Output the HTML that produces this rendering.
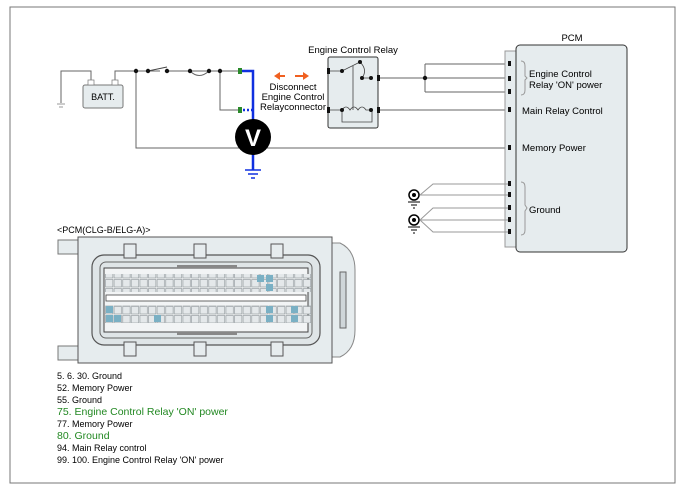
<!DOCTYPE html>
<html><head><meta charset="utf-8"><style>
html,body{margin:0;padding:0;background:#fff;width:684px;height:493px;overflow:hidden}
svg text{font-family:"Liberation Sans",sans-serif}
</style></head><body>
<svg width="684" height="493" viewBox="0 0 684 493" xmlns="http://www.w3.org/2000/svg">
<defs>
<pattern id="pins" x="105" y="0" width="8.6" height="9" patternUnits="userSpaceOnUse">
<rect x="0.5" y="0.5" width="7.4" height="7.5" fill="#e4e8ea" stroke="#8a9296" stroke-width="0.6"/>
</pattern>
</defs>
<rect x="10" y="7" width="665" height="476" fill="none" stroke="#777" stroke-width="1"/>

<!-- battery section -->
<g stroke="#666" stroke-width="1" fill="none">
<path d="M61 103 V71 H91 V80"/>
<path d="M115 80 V71 H240"/>
<path d="M136 71 V148 H510"/>
<path d="M220 71 V110 H240"/>
<path d="M378 78 H425 M425 64 V92 M425 64 H510 M425 78 H510 M425 92 H510"/>
<path d="M378 110 H510"/>
</g>
<line x1="57" y1="104" x2="65" y2="104" stroke="#999"/><line x1="59" y1="107" x2="63" y2="107" stroke="#999"/>
<rect x="83" y="85" width="40" height="23" rx="2" fill="#e6ecee" stroke="#777"/>
<rect x="88" y="80" width="6" height="5" fill="#fff" stroke="#777" stroke-width="0.7"/>
<rect x="112" y="80" width="6" height="5" fill="#fff" stroke="#777" stroke-width="0.7"/>
<text x="103" y="100" font-size="9" text-anchor="middle">BATT.</text>
<path d="M148 71 L167 67" stroke="#444" fill="none"/>
<rect x="160" y="69" width="30" height="4" fill="#fff"/>
<path d="M167 71 H190 M190 71 Q199 80 209 71" stroke="#666" fill="none"/>
<g fill="#111"><circle cx="136" cy="71" r="2.2"/><circle cx="148" cy="71" r="2.2"/><circle cx="167" cy="71" r="2.2"/><circle cx="190" cy="71" r="2.2"/><circle cx="209" cy="71" r="2.2"/><circle cx="220" cy="71" r="2.2"/><circle cx="425" cy="78" r="2.2"/></g>
<rect x="238" y="68" width="4" height="6" fill="#2a8a2a"/>
<rect x="238" y="107" width="4" height="6" fill="#2a8a2a"/>
<path d="M242 71 H253 V170" stroke="#1030e0" stroke-width="2.5" fill="none"/>
<path d="M243 110 H253" stroke="#1030e0" stroke-width="2.5" stroke-dasharray="2,2" fill="none"/>
<path d="M245 170 H261 M248 174 H258 M251 178 H255" stroke="#1030e0" stroke-width="1.5"/>
<circle cx="253" cy="137" r="18" fill="#000"/>
<text x="253" y="146" font-size="24" fill="#fff" text-anchor="middle" font-weight="bold">V</text>
<!-- arrows -->
<g stroke="#f06020" stroke-width="2" fill="#f06020">
<line x1="278" y1="76" x2="285" y2="76"/><polygon points="274,76 280,72 280,80" stroke="none"/>
<line x1="295" y1="76" x2="303" y2="76"/><polygon points="309,76 303,72 303,80" stroke="none"/>
</g>
<text x="293" y="90" font-size="9.5" text-anchor="middle">Disconnect</text>
<text x="293" y="100" font-size="9.5" text-anchor="middle">Engine Control</text>
<text x="293" y="110" font-size="9.5" text-anchor="middle">Relayconnector</text>
<!-- relay -->
<text x="353" y="53" font-size="9.5" text-anchor="middle">Engine Control Relay</text>
<rect x="328" y="57" width="50" height="71" rx="2" fill="#e6ecee" stroke="#333"/>
<g stroke="#444" fill="none" stroke-width="0.8">
<path d="M330 71 H342 L360 62 M360 62 Q368 70 362 78 H370"/>
<path d="M353 66 V110"/>
<path d="M330 110 H342 Q346 104 350 110 Q354 104 358 110 Q362 104 366 110 H372"/>
<path d="M342 110 V122 H372 V110"/>
</g>
<g fill="#111"><circle cx="342" cy="71" r="2"/><circle cx="360" cy="62" r="2"/><circle cx="362" cy="78" r="2"/><circle cx="371" cy="78" r="2"/><circle cx="342" cy="110" r="2"/><circle cx="371" cy="110" r="2"/>
<rect x="327" y="68" width="3" height="6"/><rect x="327" y="107" width="3" height="6"/><rect x="377" y="75" width="3" height="6"/><rect x="377" y="107" width="3" height="6"/></g>
<!-- PCM -->
<text x="572" y="41" font-size="9.5" text-anchor="middle">PCM</text>
<rect x="505" y="51" width="14" height="196" fill="#e6ecee" stroke="#999"/>
<rect x="516" y="45" width="111" height="207" rx="4" fill="#e6ecee" stroke="#333"/>
<g stroke="#999" fill="none">
<path d="M510 184 H433 L420 195"/>
<path d="M420 195 H510"/>
<path d="M510 208 H433 L420 220"/>
<path d="M420 220 H510"/>
<path d="M510 232 H433 L420 220"/>
<path d="M521 61 Q525 61 525 66 V76 L527 78 L525 80 V90 Q525 95 521 95" />
<path d="M521 182 Q525 182 525 187 V205 L527 208 L525 211 V230 Q525 235 521 235"/>
</g>
<g fill="#111"><rect x="508" y="61" width="3" height="5"/><rect x="508" y="76" width="3" height="5"/><rect x="508" y="89" width="3" height="5"/><rect x="508" y="107" width="3" height="5"/><rect x="508" y="145" width="3" height="5"/><rect x="508" y="181" width="3" height="5"/><rect x="508" y="192" width="3" height="5"/><rect x="508" y="205" width="3" height="5"/><rect x="508" y="217" width="3" height="5"/><rect x="508" y="229" width="3" height="5"/></g>
<g stroke="#000" fill="#fff" stroke-width="1.5"><circle cx="414" cy="195" r="5"/><circle cx="414" cy="220" r="5"/></g>
<g fill="#000"><circle cx="414" cy="195" r="2"/><circle cx="414" cy="220" r="2"/></g>
<g stroke="#000"><path d="M408 202 H420 M411 205 H417 M413 208 H415"/><path d="M408 227 H420 M411 230 H417 M413 233 H415"/></g>
<g font-size="9.5"><text x="529" y="77">Engine Control</text><text x="529" y="88">Relay 'ON' power</text>
<text x="522" y="114">Main Relay Control</text><text x="522" y="151">Memory Power</text><text x="529" y="213">Ground</text></g>

<!-- connector -->
<text x="57" y="233" font-size="9">&lt;PCM(CLG-B/ELG-A)&gt;</text>
<rect x="58" y="240" width="20" height="14" fill="#e6ecee" stroke="#777"/>
<rect x="58" y="346" width="20" height="14" fill="#e6ecee" stroke="#777"/>
<path d="M332 243 H340 Q355 250 355 270 V330 Q355 350 340 357 H332 Z" fill="#e6ecee" stroke="#888"/>
<rect x="78" y="237" width="254" height="126" fill="#e6ecee" stroke="#555"/>
<rect x="92" y="255" width="228" height="90" rx="12" fill="#dfe5e7" stroke="#555" stroke-width="1.2"/>
<rect x="100" y="262" width="212" height="76" rx="6" fill="none" stroke="#666"/>
<rect x="104" y="268" width="204" height="64" fill="#f2f4f5" stroke="#444"/>
<rect x="105" y="274" width="206" height="18" fill="url(#pins)"/>
<rect x="105" y="305" width="206" height="18" fill="url(#pins)"/>
<rect x="106" y="295" width="200" height="6" fill="#fff" stroke="#444" stroke-width="0.8"/>
<g fill="#7ab0c4"><rect x="257" y="275" width="7" height="7"/><rect x="266" y="275" width="7" height="7"/><rect x="266" y="284" width="7" height="7"/><rect x="106" y="306" width="7" height="7"/><rect x="106" y="315" width="7" height="7"/><rect x="114" y="315" width="7" height="7"/><rect x="154" y="315" width="7" height="7"/><rect x="266" y="306" width="7" height="7"/><rect x="266" y="315" width="7" height="7"/><rect x="291" y="306" width="7" height="7"/><rect x="291" y="315" width="7" height="7"/></g>
<g fill="#e6ecee" stroke="#555"><rect x="124" y="244" width="12" height="14"/><rect x="194" y="244" width="12" height="14"/><rect x="271" y="244" width="12" height="14"/><rect x="124" y="342" width="12" height="14"/><rect x="194" y="342" width="12" height="14"/><rect x="271" y="342" width="12" height="14"/></g>
<rect x="177" y="265" width="60" height="3" fill="#888"/><rect x="177" y="332" width="60" height="3" fill="#888"/>
<rect x="340" y="272" width="6" height="56" fill="#cfd6d9" stroke="#666"/>

<!-- list -->
<g font-size="9">
<text x="57" y="379">5. 6. 30. Ground</text>
<text x="57" y="391">52. Memory Power</text>
<text x="57" y="403">55. Ground</text>
<text x="57" y="415" font-size="10.5" fill="#228822">75. Engine Control Relay 'ON' power</text>
<text x="57" y="427">77. Memory Power</text>
<text x="57" y="439" font-size="10.5" fill="#228822">80. Ground</text>
<text x="57" y="451">94. Main Relay control</text>
<text x="57" y="463">99. 100. Engine Control Relay 'ON' power</text>
</g>
</svg>
</body></html>
